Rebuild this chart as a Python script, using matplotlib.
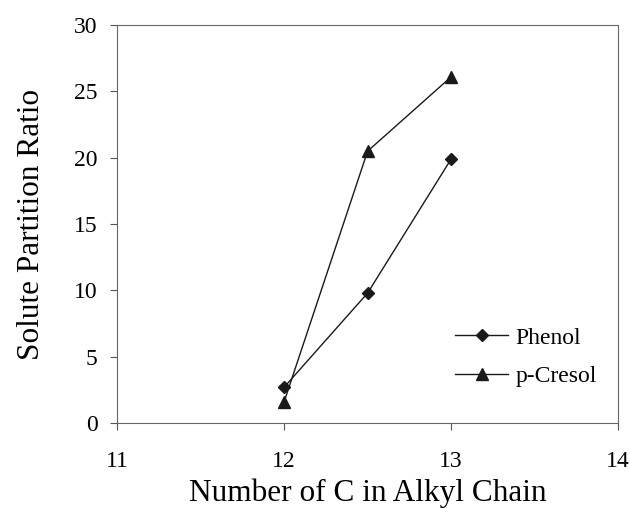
import matplotlib
matplotlib.use("Agg")
import matplotlib.pyplot as plt

# partition ratio vs alkyl chain length
carbons = [12, 12.5, 13]
phenol = [2.7, 9.8, 19.9]
p_cresol = [1.6, 20.5, 26.1]

plt.rcParams['font.family'] = ['Liberation Serif', 'DejaVu Serif']

fig = plt.figure(figsize=(6.3, 5.14), dpi=100)
ax = fig.add_axes([0.186, 0.177, 0.795, 0.774])

ax.plot(carbons, phenol, color='#1a1a1a', lw=1.0, marker='D', ms=6.5, label='Phenol')
ax.plot(carbons, p_cresol, color='#1a1a1a', lw=1.0, marker='^', ms=8, label='p-Cresol')

ax.set_xlim(11, 14)
ax.set_ylim(0, 30)
ax.set_xticks([11, 12, 13, 14])
ax.set_yticks(range(0, 31, 5))
ax.tick_params(direction='out', length=5, width=0.8, color='#555555', labelsize=17)
ax.tick_params(axis='x', pad=15)
ax.tick_params(axis='y', pad=9)
for s in ax.spines.values():
    s.set_color('#666666')
    s.set_linewidth(0.8)

ax.set_xlabel('Number of C in Alkyl Chain', fontsize=22.5, labelpad=5)
ax.set_ylabel('Solute Partition Ratio', fontsize=22.5, labelpad=20)

ax.legend(loc='center left', bbox_to_anchor=(0.675, 0.166), frameon=False, fontsize=17,
          handlelength=2.25, handletextpad=0.3, labelspacing=0.7,
          borderpad=0, borderaxespad=0)

fig.savefig('out.png', dpi=100)
